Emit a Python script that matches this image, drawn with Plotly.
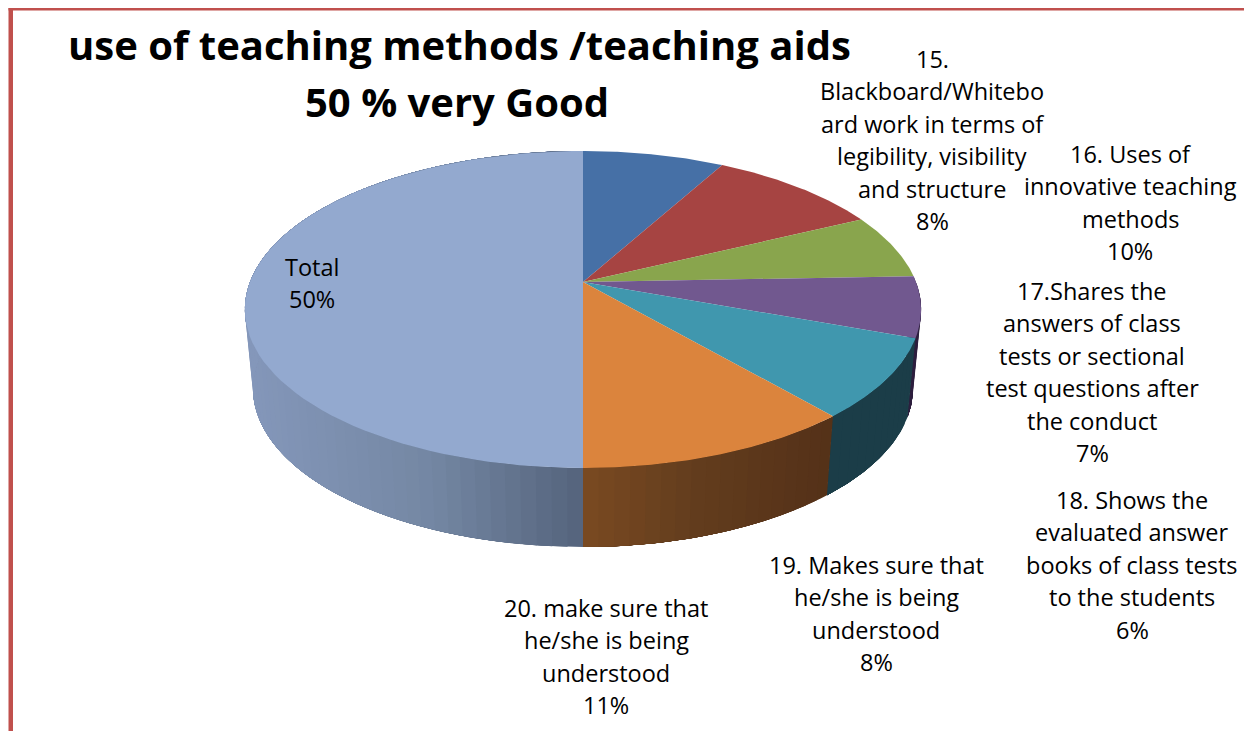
import numpy as np
import plotly.graph_objects as go

# ---- data (clockwise from 12 o'clock) ----
slice_names = [
    ["15.", "Blackboard/Whitebo", "ard work in terms of", "legibility, visibility", "and structure"],
    ["16. Uses of", "innovative teaching", "methods"],
    ["17.Shares the", "answers of class", "tests or sectional", "test questions after", "the conduct"],
    ["18. Shows the", "evaluated answer", "books of class tests", "to the students"],
    ["19. Makes sure that", "he/she is being", "understood"],
    ["20. make sure that", "he/she is being", "understood"],
    ["Total"],
]
slice_values = [8.0, 9.8, 6.6, 6.2, 8.1, 11.3, 50.0]
title_lines = ["use of teaching methods /teaching aids", "50 % very Good"]

# ---- styles ----
top_colors = ["#4670A6", "#A64442", "#89A54D", "#71588F", "#4097AE", "#DB843D", "#93A9CF"]
# side colours: (x pixel, rgb) stops; None = not visible
side_stops = [
    None, None, None,
    [(860, (45, 30, 62)), (925, (45, 30, 62))],
    [(820, (27, 61, 72)), (925, (27, 61, 72))],
    [(583, (122, 74, 33)), (700, (98, 60, 29)), (835, (84, 49, 24))],
    [(245, (132, 151, 186)), (430, (116, 135, 163)), (583, (84, 99, 124))],
]
label_pos = [(932, 59), (1130, 154), (1092, 291), (1132, 500), (876, 565), (606, 608), (312, 267)]
LINE = 32.4
FONT = "Open Sans"
LABEL_SIZE = 23.5

CX, APEX_Y, A, B, K = 583.0, 282.0, 333.0, 153.7, 0.1735
DEPTH, SHRINK = 79.0, 0.976


def project(theta):
    u, v = np.sin(theta), np.cos(theta)
    s = 1 / (1 + K * v)
    return CX + A * u * s, APEX_Y - B * v * s


def project_low(theta):
    x, y = project(theta)
    return CX + (x - CX) * SHRINK, y + DEPTH


def rgb_at(stops, x):
    xs = [p[0] for p in stops]
    vals = [np.interp(x, xs, [p[1][i] for p in stops]) for i in range(3)]
    return "rgb(%d,%d,%d)" % tuple(int(round(c)) for c in vals)


fig = go.Figure()
edges = np.concatenate([[0], np.cumsum(slice_values)]) / sum(slice_values) * 2 * np.pi


def poly(xs, ys, color):
    fig.add_trace(go.Scatter(x=xs, y=ys, mode="lines", fill="toself", fillcolor=color,
                             line=dict(color=color, width=0), hoverinfo="skip", showlegend=False))


# walls: painter's order, every band reaches the slice's far end so no seams show
for i, stops in enumerate(side_stops):
    if stops is None:
        continue
    t0, t1 = edges[i], edges[i + 1]
    n = max(3, int((t1 - t0) / np.pi * 80))
    grid = np.linspace(t0, t1, n + 1)
    for a in grid[:-1]:
        sub = np.linspace(a, t1, 30)
        xt, yt = project(sub)
        xb, yb = project_low(sub[::-1])
        x_mid = project(a + (grid[1] - grid[0]) / 2)[0]
        poly(np.r_[xt, xb, xt[0]], np.r_[yt, yb, yt[0]], rgb_at(stops, float(x_mid)))

# top face
for i, c in enumerate(top_colors):
    th = np.linspace(edges[i], edges[i + 1], 80)
    x, y = project(th)
    poly(np.r_[CX, x, CX], np.r_[APEX_Y, y, APEX_Y], c)

# text
annotations = []


def put(text, x, y, size, bold=False):
    annotations.append(dict(x=x, y=y, xref="x", yref="y", text=f"<b>{text}</b>" if bold else text,
                            showarrow=False, xanchor="center", yanchor="middle",
                            font=dict(family=FONT, size=size, color="#000000")))


for names, val, (lx, ly) in zip(slice_names, slice_values, label_pos):
    for j, line in enumerate(names + [f"{round(val)}%"]):
        put(line, lx, ly + j * LINE, LABEL_SIZE)

put(title_lines[0], 459, 44, 40, True)
put(title_lines[1], 457, 101, 40, True)

border = "#C0504D"
shapes = [
    dict(type="rect", xref="x", yref="y", x0=8.5, x1=13, y0=8, y1=731, fillcolor=border, line_width=0, layer="above"),
    dict(type="rect", xref="x", yref="y", x0=8.5, x1=1244, y0=8, y1=10.5, fillcolor=border, line_width=0, layer="above"),
]

fig.update_layout(
    width=1244, height=731, margin=dict(l=0, r=0, t=0, b=0), autosize=False,
    paper_bgcolor="white", plot_bgcolor="white", showlegend=False,
    xaxis=dict(range=[0, 1244], visible=False, fixedrange=True),
    yaxis=dict(range=[731, 0], visible=False, fixedrange=True),
    annotations=annotations, shapes=shapes,
)
fig.write_html("out.html", config=dict(displayModeBar=False),
               post_script="document.body.style.margin='0';document.documentElement.style.overflow='hidden';")
